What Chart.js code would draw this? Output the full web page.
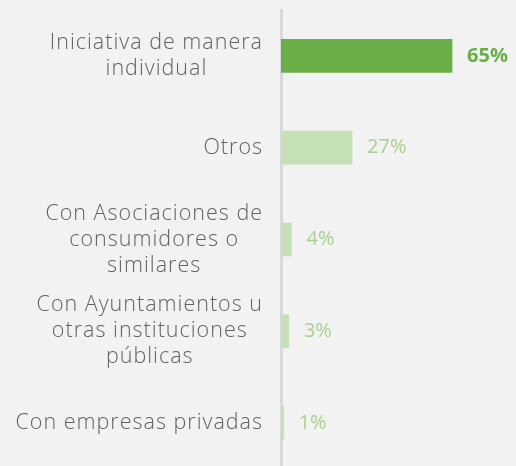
<!DOCTYPE html>
<html>
<head>
<meta charset="utf-8">
<script src="https://cdn.jsdelivr.net/npm/chart.js@4.4.1/dist/chart.umd.min.js"></script>
<style>
    html, body { margin: 0; padding: 0; background: #f2f2f2; overflow: hidden; }
    #wrap { position: relative; width: 516px; height: 470px; }
</style>
</head>
<body>
<div id="wrap"><canvas id="colabChart"></canvas></div>
<script>
// datos
const categorias = [
    ['Iniciativa de manera', 'individual'],
    ['Otros'],
    ['Con Asociaciones de', 'consumidores o', 'similares'],
    ['Con Ayuntamientos u', 'otras instituciones', 'públicas'],
    ['Con empresas privadas']
];
const valores = [65, 27, 4, 3, 1];
const etiquetas = ['65%', '27%', '4%', '3%', '1%'];

const verdeFuerte = '#6aae47';
const verdeClaro = '#c5e0b4';
const textoClaro = '#a9d18e';

// etiquetas de categoria y valores dibujadas a mano
const etiquetasPlugin = {
    id: 'etiquetasPlugin',
    afterDatasetsDraw(chart) {
        const ctx = chart.ctx;
        const yScale = chart.scales.y;
        const meta = chart.getDatasetMeta(0);
        ctx.save();

        // categorias
        ctx.font = '300 21.5px "Open Sans", Lato, sans-serif';
        ctx.letterSpacing = '1px';
        ctx.fillStyle = '#626262';
        ctx.textAlign = 'center';
        ctx.textBaseline = 'middle';
        const lineH = 26;
        categorias.forEach((lineas, i) => {
            const yc = yScale.getPixelForValue(i);
            let maxW = 0;
            lineas.forEach(l => { maxW = Math.max(maxW, ctx.measureText(l).width); });
            const xc = chart.chartArea.left - 18 - maxW / 2;
            lineas.forEach((l, j) => {
                ctx.fillText(l, xc, yc + (j - (lineas.length - 1) / 2) * lineH);
            });
        });

        // valores
        ctx.letterSpacing = '0px';
        ctx.textAlign = 'left';
        meta.data.forEach((bar, i) => {
            ctx.font = (i === 0 ? 'bold ' : '') + '20px "Open Sans", sans-serif';
            ctx.fillStyle = i === 0 ? verdeFuerte : textoClaro;
            ctx.fillText(etiquetas[i], bar.x + 15, bar.y);
        });
        ctx.restore();
    }
};

const ctx = document.getElementById('colabChart').getContext('2d');
const colabChart = new Chart(ctx, {
    type: 'bar',
    data: {
        labels: categorias,
        datasets: [{
            data: valores,
            backgroundColor: valores.map((v, i) => i === 0 ? verdeFuerte : verdeClaro),
            borderWidth: 0,
            barThickness: 33
        }]
    },
    options: {
        indexAxis: 'y',
        responsive: true,
        maintainAspectRatio: false,
        animation: false,
        layout: {
            padding: { top: 10, bottom: 1, right: 0, left: 0 }
        },
        plugins: {
            legend: { display: false },
            tooltip: { enabled: false }
        },
        scales: {
            x: {
                display: false,
                min: 0,
                max: 89.3
            },
            y: {
                display: true,
                ticks: { display: false },
                grid: { display: false, drawTicks: false },
                border: { display: true, color: '#d9d9d9', width: 3 },
                afterFit: (scale) => { scale.width = 281; }
            }
        }
    },
    plugins: [etiquetasPlugin]
});
</script>
</body>
</html>
